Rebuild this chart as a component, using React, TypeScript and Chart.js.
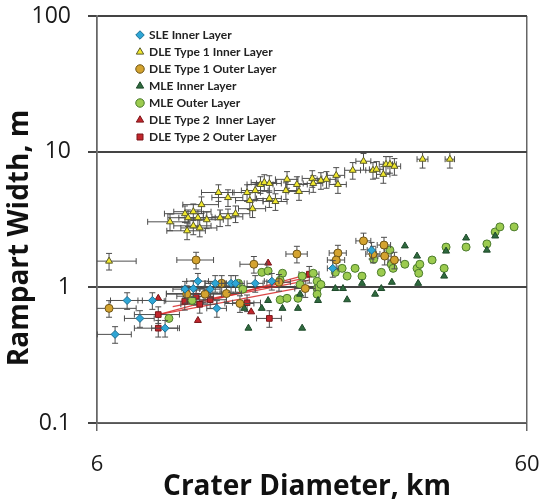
import React, { useEffect, useRef } from 'react';
import { Chart, registerables } from 'chart.js';

Chart.register(...registerables);

const X_TICKS = [6, 60];
const Y_TICKS = [0.1, 1, 10, 100];
const X_TITLE = 'Crater Diameter, km';
const Y_TITLE = 'Rampart Width, m';

const LABELS = [
  'SLE Inner Layer',
  'DLE Type 1 Inner Layer',
  'DLE Type 1 Outer Layer',
  'MLE Inner Layer',
  'MLE Outer Layer',
  'DLE Type 2  Inner Layer',
  'DLE Type 2 Outer Layer',
];

// [crater diameter km, rampart width m]
const SLE_INNER: [number, number][] = [
  [7.05, 0.8], [8.07, 0.8], [7.55, 0.59], [6.61, 0.45], [8.64, 0.5], [11.4, 0.7], [9.61, 0.97],
  [10.05, 0.98], [10.3, 1.11], [11.3, 1.07], [12.3, 1.07], [12.6, 1.07], [14.0, 1.07], [15.3, 1.11],
  [11.0, 0.97], [21.2, 1.38], [26.1, 1.88],
];
const DLE1_INNER: [number, number][] = [
  [6.4, 1.56], [8.87, 3.04], [9.61, 3.49], [9.72, 2.61], [9.77, 3.26], [10.05, 3.61], [10.05, 2.84],
  [10.3, 3.26], [10.4, 2.74], [10.5, 4.07], [10.8, 3.15], [11.5, 5.0], [11.6, 3.26], [12.1, 4.59],
  [12.1, 3.31], [12.6, 3.49], [13.4, 5.0], [13.6, 4.36], [13.8, 3.8], [14.0, 5.17], [14.4, 5.73],
  [14.7, 5.93], [15.1, 5.83], [15.1, 4.51], [15.6, 4.29], [16.5, 5.17], [16.6, 6.25], [17.5, 5.73],
  [17.7, 5.09], [19.0, 6.35], [19.1, 5.83], [19.9, 6.14], [20.5, 6.25], [21.6, 6.69], [21.8, 5.73],
  [23.6, 7.29], [25.0, 8.5], [26.3, 7.29], [26.8, 7.41], [28.2, 8.07], [28.8, 8.07], [29.5, 7.8],
  [27.8, 6.8], [34.3, 8.8], [39.7, 8.8],
];
const DLE1_OUTER: [number, number][] = [
  [6.4, 0.7], [10.2, 1.59], [13.9, 1.48], [17.5, 1.76], [11.7, 1.07], [15.9, 1.09], [10.7, 0.89],
  [9.7, 0.89], [12.0, 0.9], [18.3, 0.98], [25.0, 2.2], [27.9, 2.05], [21.8, 1.79], [21.6, 1.59],
  [26.3, 1.76], [28.0, 1.7], [29.5, 1.59], [12.9, 0.76],
];
const MLE_INNER: [number, number][] = [
  [13.2, 0.7], [14.5, 0.7], [15.0, 0.8], [16.2, 0.7], [17.6, 0.7], [13.5, 0.5], [18.0, 0.5],
  [19.6, 0.8], [21.5, 0.98], [22.4, 0.98], [22.9, 0.81], [24.8, 1.07], [26.6, 0.89], [27.5, 0.98],
  [29.1, 1.09], [33.5, 1.07], [31.2, 2.02], [33.3, 1.7], [38.5, 1.21], [38.9, 1.85], [43.3, 2.31],
  [48.4, 1.88], [50.6, 2.39], [17.8, 0.89],
];
const MLE_OUTER: [number, number][] = [
  [8.82, 0.59], [9.98, 0.8], [12.8, 1.07], [13.1, 0.97], [14.5, 1.29], [15.0, 1.32], [16.2, 1.27],
  [16.0, 1.13], [16.0, 0.81], [16.6, 0.83], [17.6, 0.83], [18.0, 1.21], [17.8, 1.05], [19.1, 1.27],
  [19.5, 1.11], [19.5, 0.98], [19.5, 0.89], [19.9, 1.05], [21.5, 1.29], [22.3, 1.38], [22.9, 1.21],
  [23.9, 1.38], [24.8, 1.21], [26.4, 1.61], [27.5, 1.29], [28.8, 1.88], [29.0, 1.48], [29.3, 1.38],
  [31.2, 1.48], [33.3, 1.38], [33.6, 1.27], [33.8, 1.48], [36.1, 1.59], [38.5, 1.38], [38.9, 1.98],
  [43.3, 1.98], [48.4, 2.09], [50.6, 2.56], [51.9, 2.79], [56.0, 2.79],
];
const DLE2_INNER: [number, number][] = [
  [8.33, 0.83], [10.3, 0.57], [15.0, 1.51], [13.7, 0.66],
];
const DLE2_OUTER: [number, number][] = [
  [8.33, 0.63], [8.33, 0.5], [15.1, 0.59], [18.7, 1.25], [9.7, 0.9], [10.2, 0.86], [10.4, 0.75],
  [11.0, 0.81], [13.4, 0.77], [9.6, 0.79],
];
// DLE Type 2 trend lines (start, end)
const DLE2_LINES: [number, number][][] = [
  [[8.33, 0.63], [18.7, 1.25]],
  [[8.33, 0.63], [18.7, 1.02]],
  [[9.0, 0.72], [18.7, 1.13]],
  [[10.4, 0.79], [18.7, 1.19]],
];

// error bar sizes: diameter +/- km, width +/- fraction
const SLE_X_ERR = 0.6;
const DLE1_INNER_X_ERR = 1;
const DLE1_OUTER_X_ERR = 1;
const DLE2_OUTER_X_ERR = 1;
const Y_ERR_FRAC = 0.14;

const FONT = '"Open Sans", Lato, sans-serif';

const toPts = (a: [number, number][]) => a.map(([x, y]) => ({ x, y }));

const errorBars = {
  id: 'errorBars',
  beforeDatasetDraw(chart: any, args: any) {
    const ds = chart.data.datasets[args.index] as any;
    if (!ds.xErr && !ds.yErr) return;
    const { ctx, chartArea, scales } = chart;
    const xs = scales.x;
    const ys = scales.y;
    ctx.save();
    ctx.beginPath();
    ctx.rect(chartArea.left, chartArea.top, chartArea.right - chartArea.left, chartArea.bottom - chartArea.top);
    ctx.clip();
    ctx.strokeStyle = '#4e4e4e';
    ctx.lineWidth = 1;
    const cap = 3;
    for (const p of ds.data) {
      const px = xs.getPixelForValue(p.x);
      const py = ys.getPixelForValue(p.y);
      ctx.beginPath();
      if (ds.xErr) {
        const l = xs.getPixelForValue(p.x - ds.xErr);
        const r = xs.getPixelForValue(p.x + ds.xErr);
        ctx.moveTo(l, py); ctx.lineTo(r, py);
        ctx.moveTo(l, py - cap); ctx.lineTo(l, py + cap);
        ctx.moveTo(r, py - cap); ctx.lineTo(r, py + cap);
      }
      if (ds.yErr) {
        const t = ys.getPixelForValue(p.y * (1 + ds.yErr));
        const b = ys.getPixelForValue(p.y * (1 - ds.yErr));
        ctx.moveTo(px, t); ctx.lineTo(px, b);
        ctx.moveTo(px - cap, t); ctx.lineTo(px + cap, t);
        ctx.moveTo(px - cap, b); ctx.lineTo(px + cap, b);
      }
      ctx.stroke();
    }
    ctx.restore();
  },
};

const legendShift = {
  id: 'legendShift',
  afterLayout(chart: any) {
    const lg = chart.legend;
    if (lg) {
      lg.left += 35; lg.right += 35;
      lg.top += 24; lg.bottom += 24;
    }
  },
};

const axisTitles = {
  id: 'axisTitles',
  afterDraw(chart: any) {
    const { ctx } = chart;
    ctx.save();
    ctx.textAlign = 'center';
    ctx.textBaseline = 'middle';
    ctx.fillStyle = '#111';
    ctx.font = `bold 28px ${FONT}`;
    ctx.fillText(X_TITLE, 307, 487);
    ctx.translate(20, 238);
    ctx.rotate(-Math.PI / 2);
    ctx.fillText(Y_TITLE, 0, 0);
    ctx.restore();
  },
};

export default function App() {
  const ref = useRef<HTMLCanvasElement | null>(null);
  useEffect(() => {
    if (!ref.current) return;
    Chart.defaults.font.family = FONT;
    const pt = (label: string, data: [number, number][], style: string, bg: string, border: string, xErr = 0, yErr = 0, radius = 4) => ({
      type: 'scatter',
      label,
      data: toPts(data),
      pointStyle: style,
      backgroundColor: bg,
      borderColor: border,
      borderWidth: 1,
      pointRadius: radius,
      xErr,
      yErr,
    });
    const datasets: any[] = [
      pt(LABELS[0], SLE_INNER, 'rectRot', '#2ea6d6', '#1d6f93', SLE_X_ERR, Y_ERR_FRAC),
      pt(LABELS[1], DLE1_INNER, 'triangle', '#f1e82c', '#5a5a2a', DLE1_INNER_X_ERR, Y_ERR_FRAC),
      pt(LABELS[2], DLE1_OUTER, 'circle', '#d4a32f', '#6e5518', DLE1_OUTER_X_ERR, Y_ERR_FRAC),
      pt(LABELS[3], MLE_INNER, 'triangle', '#2f6a3e', '#1e4a2a'),
      pt(LABELS[4], MLE_OUTER, 'circle', '#9ccb4f', '#4a7a2c'),
      pt(LABELS[5], DLE2_INNER, 'triangle', '#c2262c', '#7a1518'),
      pt(LABELS[6], DLE2_OUTER, 'rect', '#c2262c', '#7a1518', DLE2_OUTER_X_ERR, Y_ERR_FRAC),
      ...DLE2_LINES.map((l) => ({
        type: 'line',
        label: '',
        data: toPts(l),
        showLine: true,
        pointRadius: 0,
        borderColor: 'rgba(214,40,40,0.85)',
        borderWidth: 1.3,
        fill: false,
      })),
    ];
    const chart = new Chart(ref.current, {
      type: 'scatter',
      data: { datasets },
      options: {
        responsive: false,
        animation: false,
        devicePixelRatio: 1,
        layout: { padding: { top: 16, right: 18, left: 0, bottom: 0 } },
        plugins: {
          tooltip: { enabled: false },
          legend: {
            position: 'chartArea',
            align: 'start',
            labels: {
              usePointStyle: true,
              boxWidth: 6,
              boxHeight: 6,
              padding: 5,
              color: '#222',
              font: { family: 'Lato, sans-serif', size: 12, weight: 'bold' },
              filter: (item: any) => item.datasetIndex < 7,
            },
          },
        },
        scales: {
          x: {
            type: 'logarithmic',
            min: 6,
            max: 60,
            afterBuildTicks: (s: any) => { s.ticks = X_TICKS.map((v) => ({ value: v })); },
            afterFit: (s: any) => { s.height = 77; s.paddingLeft = 0; s.paddingRight = 0; },
            ticks: {
              autoSkip: false,
              maxRotation: 0,
              padding: 21,
              color: '#1a1a1a',
              font: { size: 22 },
              callback: (v: any) => String(v),
            },
            grid: { color: '#666', lineWidth: 1.5, tickLength: 8 },
            border: { color: '#666', width: 1.5 },
            title: { display: false },
          },
          y: {
            type: 'logarithmic',
            min: 0.1,
            max: 100,
            afterBuildTicks: (s: any) => { s.ticks = Y_TICKS.map((v) => ({ value: v })); },
            afterFit: (s: any) => { s.width = 97; s.paddingTop = 0; s.paddingBottom = 0; },
            ticks: {
              autoSkip: false,
              padding: 17,
              color: '#1a1a1a',
              font: { size: 23 },
              callback: (v: any) => String(v),
            },
            grid: { color: '#444', lineWidth: 2, tickLength: 9 },
            border: { color: '#666', width: 1.5 },
            title: { display: false },
          },
        },
      },
      plugins: [errorBars, legendShift, axisTitles],
    } as any);
    return () => chart.destroy();
  }, []);
  return (
    <div style={{ position: 'fixed', left: 0, top: 0, width: 545, height: 500, background: '#fff' }}>
      <canvas ref={ref} width={545} height={500} style={{ display: 'block', width: 545, height: 500 }} />
    </div>
  );
}
